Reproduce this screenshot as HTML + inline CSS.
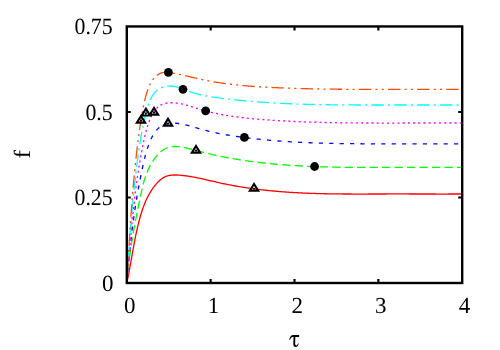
<!DOCTYPE html>
<html><head><meta charset="utf-8"><title>plot</title>
<style>
html,body{margin:0;padding:0;background:#fff;}
body{width:500px;height:350px;overflow:hidden;font-family:"Liberation Serif",serif;}
svg{display:block;position:absolute;left:0;top:0;will-change:transform;}
text{font-family:"Liberation Serif",serif;fill:#000;text-rendering:geometricPrecision;}
</style></head><body>
<svg width="500" height="350" viewBox="0 0 500 350">

<g fill="none" stroke-width="1.30" stroke-linecap="butt" stroke-linejoin="round">
<path d="M126.80 282.90 L127.02 281.88 L127.24 280.86 L127.46 279.84 L127.68 278.83 L127.89 277.81 L128.10 276.78 L128.30 275.76 L128.50 274.74 L128.70 273.72 L128.90 272.70 L129.10 271.68 L129.29 270.66 L129.48 269.63 L129.67 268.61 L129.86 267.59 L130.05 266.57 L130.23 265.54 L130.42 264.52 L130.60 263.50 L130.78 262.47 L130.97 261.45 L131.15 260.43 L131.33 259.40 L131.51 258.38 L131.68 257.36 L131.86 256.33 L132.04 255.31 L132.22 254.29 L132.40 253.26 L132.58 252.24 L132.76 251.22 L132.94 250.20 L133.13 249.17 L133.31 248.15 L133.49 247.13 L133.68 246.11 L133.87 245.09 L134.05 244.07 L134.24 243.05 L134.44 242.03 L134.63 241.01 L134.83 239.99 L135.02 238.97 L135.23 237.96 L135.43 236.94 L135.63 235.92 L135.84 234.91 L136.05 233.89 L136.27 232.88 L136.49 231.86 L136.71 230.85 L136.93 229.84 L137.16 228.83 L137.39 227.82 L137.63 226.81 L137.87 225.80 L138.11 224.79 L138.36 223.78 L138.61 222.77 L138.87 221.77 L139.13 220.76 L139.40 219.76 L139.67 218.76 L139.95 217.76 L140.23 216.75 L140.52 215.75 L140.81 214.76 L141.11 213.76 L141.42 212.77 L141.73 211.77 L142.05 210.78 L142.38 209.79 L142.72 208.81 L143.06 207.83 L143.42 206.85 L143.78 205.87 L144.15 204.90 L144.53 203.93 L144.92 202.97 L145.33 202.01 L145.74 201.06 L146.16 200.11 L146.60 199.16 L147.05 198.22 L147.51 197.29 L147.98 196.36 L148.47 195.44 L148.96 194.53 L149.48 193.62 L150.00 192.72 L150.54 191.82 L151.10 190.93 L151.67 190.05 L152.26 189.18 L152.86 188.32 L153.48 187.46 L154.11 186.61 L154.76 185.77 L155.43 184.94 L156.12 184.12 L156.82 183.32 L157.54 182.53 L158.28 181.77 L159.04 181.03 L159.82 180.32 L160.61 179.64 L161.43 179.01 L162.26 178.41 L163.11 177.85 L163.98 177.35 L164.87 176.90 L165.78 176.50 L166.71 176.15 L167.66 175.86 L168.62 175.62 L169.59 175.42 L170.58 175.26 L171.58 175.14 L172.59 175.06 L173.61 175.01 L174.64 174.98 L175.67 174.99 L176.70 175.02 L177.74 175.06 L178.78 175.13 L179.83 175.20 L180.86 175.29 L181.90 175.39 L182.94 175.50 L183.98 175.61 L185.01 175.74 L186.04 175.87 L187.07 176.01 L188.11 176.16 L189.14 176.32 L190.16 176.49 L191.19 176.66 L192.22 176.84 L193.24 177.02 L194.27 177.21 L195.29 177.40 L196.32 177.60 L197.34 177.81 L198.36 178.02 L199.38 178.23 L200.40 178.45 L201.42 178.67 L202.44 178.90 L203.46 179.12 L204.48 179.35 L205.50 179.58 L206.52 179.82 L207.54 180.05 L208.56 180.29 L209.57 180.53 L210.59 180.76 L211.61 181.00 L212.63 181.24 L213.64 181.47 L214.66 181.71 L215.68 181.95 L216.70 182.18 L217.71 182.41 L218.73 182.64 L219.75 182.87 L220.77 183.09 L221.79 183.31 L222.81 183.53 L223.83 183.74 L224.85 183.96 L225.87 184.16 L226.89 184.37 L227.91 184.57 L228.93 184.77 L229.95 184.97 L230.97 185.17 L232.00 185.36 L233.02 185.55 L234.04 185.74 L235.06 185.92 L236.09 186.10 L237.11 186.28 L238.14 186.46 L239.16 186.63 L240.18 186.80 L241.21 186.97 L242.23 187.13 L243.26 187.30 L244.28 187.46 L245.31 187.61 L246.34 187.77 L247.36 187.92 L248.39 188.07 L249.42 188.22 L250.44 188.37 L251.47 188.51 L252.50 188.65 L253.53 188.79 L254.56 188.92 L255.58 189.06 L256.61 189.19 L257.64 189.32 L258.67 189.44 L259.70 189.57 L260.73 189.69 L261.76 189.81 L262.79 189.93 L263.82 190.04 L264.85 190.16 L265.88 190.27 L266.91 190.38 L267.94 190.49 L268.98 190.59 L270.01 190.69 L271.04 190.79 L272.07 190.89 L273.10 190.99 L274.14 191.09 L275.17 191.18 L276.20 191.27 L277.23 191.36 L278.27 191.45 L279.30 191.53 L280.34 191.62 L281.37 191.70 L282.40 191.78 L283.44 191.86 L284.47 191.93 L285.51 192.01 L286.54 192.08 L287.58 192.15 L288.61 192.22 L289.65 192.29 L290.68 192.35 L291.72 192.42 L292.75 192.48 L293.79 192.54 L294.83 192.60 L295.86 192.66 L296.90 192.72 L297.93 192.77 L298.97 192.83 L300.01 192.88 L301.04 192.93 L302.08 192.98 L303.12 193.03 L304.16 193.07 L305.19 193.12 L306.23 193.16 L307.27 193.20 L308.31 193.24 L309.35 193.28 L310.38 193.32 L311.42 193.36 L312.46 193.39 L313.50 193.43 L314.54 193.46 L315.58 193.49 L316.61 193.53 L317.65 193.56 L318.69 193.58 L319.73 193.61 L320.77 193.64 L321.81 193.66 L322.85 193.69 L323.89 193.71 L324.93 193.73 L325.97 193.76 L327.01 193.78 L328.05 193.80 L329.09 193.81 L330.13 193.83 L331.17 193.85 L332.21 193.86 L333.25 193.88 L334.29 193.89 L335.33 193.91 L336.37 193.92 L337.41 193.93 L338.45 193.94 L339.49 193.95 L340.53 193.96 L341.57 193.97 L342.61 193.98 L343.65 193.99 L344.69 193.99 L345.73 194.00 L346.77 194.01 L347.81 194.01 L348.85 194.02 L349.90 194.02 L350.94 194.02 L351.98 194.03 L353.02 194.03 L354.06 194.03 L355.10 194.03 L356.14 194.03 L357.18 194.04 L358.22 194.04 L359.26 194.04 L360.30 194.04 L361.34 194.04 L362.39 194.03 L363.43 194.03 L364.47 194.03 L365.51 194.03 L366.55 194.03 L367.59 194.03 L368.63 194.02 L369.67 194.02 L370.71 194.02 L371.75 194.02 L372.79 194.01 L373.83 194.01 L374.88 194.01 L375.92 194.00 L376.96 194.00 L378.00 194.00 L379.04 194.00 L380.08 193.99 L381.12 193.99 L382.16 193.99 L383.20 193.98 L384.24 193.98 L385.28 193.98 L386.32 193.98 L387.36 193.97 L388.40 193.97 L389.44 193.97 L390.48 193.97 L391.52 193.97 L392.56 193.97 L393.60 193.97 L394.64 193.96 L395.68 193.96 L396.72 193.96 L397.76 193.96 L398.80 193.96 L399.84 193.96 L400.87 193.97 L401.91 193.97 L402.95 193.97 L403.99 193.97 L405.03 193.97 L406.07 193.97 L407.11 193.97 L408.15 193.97 L409.19 193.98 L410.23 193.98 L411.27 193.98 L412.30 193.98 L413.34 193.98 L414.38 193.99 L415.42 193.99 L416.46 193.99 L417.50 193.99 L418.54 193.99 L419.58 194.00 L420.62 194.00 L421.65 194.00 L422.69 194.00 L423.73 194.01 L424.77 194.01 L425.81 194.01 L426.85 194.01 L427.89 194.01 L428.93 194.02 L429.97 194.02 L431.00 194.02 L432.04 194.02 L433.08 194.02 L434.12 194.02 L435.16 194.02 L436.20 194.03 L437.24 194.03 L438.28 194.03 L439.32 194.03 L440.36 194.03 L441.40 194.03 L442.44 194.03 L443.48 194.03 L444.52 194.03 L445.56 194.03 L446.60 194.03 L447.64 194.03 L448.68 194.02 L449.72 194.02 L450.76 194.02 L451.80 194.02 L452.84 194.02 L453.88 194.01 L454.92 194.01 L455.96 194.01 L457.00 194.00 L458.04 194.00 L459.08 193.99 L460.12 193.99 L461.17 193.98 L462.21 193.98" stroke="#ff0000"/>
<path d="M126.80 282.90 L126.89 281.76 L126.98 280.62 L127.07 279.48 L127.16 278.34 L127.26 277.21 L127.36 276.08 L127.47 274.95 L127.58 273.83 L127.69 272.70 L127.80 271.58 L127.91 270.46 L128.03 269.35 L128.15 268.23 L128.28 267.12 L128.40 266.01 L128.53 264.90 L128.66 263.79 L128.80 262.68 L128.93 261.58 L129.07 260.48 L129.21 259.38 L129.35 258.28 L129.50 257.18 L129.65 256.08 L129.80 254.99 L129.95 253.89 L130.11 252.80 L130.26 251.71 L130.42 250.62 L130.58 249.53 L130.75 248.44 L130.91 247.36 L131.08 246.27 L131.25 245.18 L131.42 244.10 L131.59 243.02 L131.77 241.93 L131.94 240.85 L132.12 239.77 L132.30 238.69 L132.49 237.61 L132.67 236.53 L132.86 235.45 L133.04 234.37 L133.23 233.29 L133.42 232.22 L133.61 231.14 L133.81 230.06 L134.00 228.98 L134.20 227.91 L134.40 226.83 L134.60 225.75 L134.80 224.67 L135.00 223.60 L135.20 222.52 L135.41 221.44 L135.61 220.36 L135.82 219.28 L136.03 218.20 L136.24 217.12 L136.45 216.04 L136.66 214.96 L136.87 213.88 L137.08 212.80 L137.30 211.72 L137.51 210.63 L137.73 209.55 L137.95 208.47 L138.16 207.38 L138.38 206.29 L138.60 205.21 L138.82 204.12 L139.04 203.03 L139.26 201.94 L139.49 200.84 L139.71 199.75 L139.93 198.66 L140.16 197.56 L140.38 196.46 L140.61 195.37 L140.85 194.27 L141.08 193.18 L141.32 192.08 L141.57 190.99 L141.82 189.90 L142.07 188.80 L142.33 187.72 L142.60 186.63 L142.87 185.55 L143.16 184.46 L143.45 183.39 L143.74 182.31 L144.05 181.24 L144.37 180.17 L144.70 179.11 L145.03 178.05 L145.38 177.00 L145.74 175.95 L146.12 174.90 L146.50 173.87 L146.90 172.84 L147.31 171.81 L147.74 170.79 L148.18 169.78 L148.63 168.78 L149.10 167.78 L149.59 166.79 L150.09 165.81 L150.61 164.84 L151.15 163.87 L151.71 162.92 L152.28 161.97 L152.88 161.04 L153.49 160.11 L154.13 159.20 L154.78 158.29 L155.45 157.40 L156.15 156.52 L156.87 155.67 L157.61 154.83 L158.37 154.02 L159.15 153.23 L159.95 152.48 L160.77 151.76 L161.62 151.07 L162.49 150.42 L163.38 149.82 L164.29 149.25 L165.22 148.74 L166.18 148.27 L167.16 147.86 L168.16 147.50 L169.18 147.20 L170.23 146.96 L171.30 146.77 L172.38 146.64 L173.47 146.55 L174.58 146.51 L175.69 146.51 L176.81 146.54 L177.93 146.61 L179.04 146.71 L180.16 146.84 L181.27 146.99 L182.37 147.17 L183.47 147.36 L184.56 147.57 L185.65 147.80 L186.73 148.04 L187.81 148.29 L188.89 148.56 L189.97 148.84 L191.05 149.12 L192.12 149.40 L193.19 149.70 L194.26 149.99 L195.34 150.28 L196.41 150.57 L197.49 150.86 L198.56 151.15 L199.64 151.43 L200.71 151.71 L201.79 151.98 L202.87 152.25 L203.95 152.52 L205.03 152.79 L206.11 153.06 L207.20 153.32 L208.28 153.57 L209.36 153.83 L210.44 154.08 L211.53 154.33 L212.61 154.58 L213.70 154.82 L214.79 155.06 L215.87 155.30 L216.96 155.53 L218.05 155.76 L219.13 155.99 L220.22 156.22 L221.31 156.44 L222.40 156.66 L223.49 156.87 L224.58 157.09 L225.67 157.30 L226.76 157.51 L227.85 157.71 L228.94 157.91 L230.03 158.11 L231.12 158.31 L232.21 158.50 L233.30 158.69 L234.40 158.88 L235.49 159.07 L236.58 159.25 L237.67 159.43 L238.77 159.61 L239.86 159.78 L240.95 159.96 L242.05 160.13 L243.14 160.29 L244.24 160.46 L245.33 160.62 L246.43 160.78 L247.52 160.94 L248.62 161.09 L249.71 161.24 L250.81 161.39 L251.91 161.54 L253.00 161.69 L254.10 161.83 L255.20 161.97 L256.30 162.11 L257.39 162.24 L258.49 162.38 L259.59 162.51 L260.69 162.64 L261.79 162.76 L262.89 162.89 L263.99 163.01 L265.08 163.13 L266.18 163.25 L267.28 163.36 L268.38 163.48 L269.48 163.59 L270.58 163.70 L271.69 163.81 L272.79 163.91 L273.89 164.01 L274.99 164.12 L276.09 164.21 L277.19 164.31 L278.29 164.41 L279.40 164.50 L280.50 164.59 L281.60 164.68 L282.70 164.77 L283.81 164.86 L284.91 164.94 L286.01 165.02 L287.12 165.10 L288.22 165.18 L289.32 165.26 L290.43 165.33 L291.53 165.41 L292.64 165.48 L293.74 165.55 L294.84 165.62 L295.95 165.68 L297.05 165.75 L298.16 165.81 L299.26 165.88 L300.37 165.94 L301.48 166.00 L302.58 166.05 L303.69 166.11 L304.79 166.16 L305.90 166.22 L307.00 166.27 L308.11 166.32 L309.22 166.37 L310.32 166.41 L311.43 166.46 L312.54 166.51 L313.64 166.55 L314.75 166.59 L315.86 166.63 L316.97 166.67 L318.07 166.71 L319.18 166.75 L320.29 166.78 L321.40 166.82 L322.50 166.85 L323.61 166.88 L324.72 166.91 L325.83 166.94 L326.93 166.97 L328.04 167.00 L329.15 167.03 L330.26 167.05 L331.37 167.08 L332.48 167.10 L333.58 167.13 L334.69 167.15 L335.80 167.17 L336.91 167.19 L338.02 167.21 L339.13 167.23 L340.24 167.24 L341.35 167.26 L342.46 167.28 L343.56 167.29 L344.67 167.31 L345.78 167.32 L346.89 167.33 L348.00 167.34 L349.11 167.36 L350.22 167.37 L351.33 167.38 L352.44 167.39 L353.55 167.39 L354.66 167.40 L355.77 167.41 L356.88 167.42 L357.99 167.42 L359.09 167.43 L360.20 167.43 L361.31 167.44 L362.42 167.44 L363.53 167.45 L364.64 167.45 L365.75 167.45 L366.86 167.46 L367.97 167.46 L369.08 167.46 L370.19 167.46 L371.30 167.46 L372.41 167.47 L373.52 167.47 L374.63 167.47 L375.74 167.47 L376.85 167.47 L377.95 167.47 L379.06 167.47 L380.17 167.47 L381.28 167.47 L382.39 167.46 L383.50 167.46 L384.61 167.46 L385.72 167.46 L386.83 167.46 L387.94 167.46 L389.05 167.46 L390.15 167.46 L391.26 167.46 L392.37 167.46 L393.48 167.46 L394.59 167.45 L395.70 167.45 L396.81 167.45 L397.91 167.45 L399.02 167.45 L400.13 167.45 L401.24 167.45 L402.35 167.45 L403.46 167.45 L404.56 167.45 L405.67 167.45 L406.78 167.45 L407.89 167.45 L409.00 167.45 L410.10 167.45 L411.21 167.45 L412.32 167.45 L413.43 167.45 L414.54 167.45 L415.64 167.45 L416.75 167.45 L417.86 167.45 L418.97 167.45 L420.08 167.45 L421.18 167.45 L422.29 167.45 L423.40 167.45 L424.51 167.45 L425.62 167.45 L426.72 167.45 L427.83 167.45 L428.94 167.45 L430.05 167.45 L431.16 167.45 L432.26 167.45 L433.37 167.45 L434.48 167.45 L435.59 167.45 L436.70 167.45 L437.81 167.45 L438.91 167.45 L440.02 167.45 L441.13 167.45 L442.24 167.45 L443.35 167.45 L444.46 167.45 L445.57 167.45 L446.67 167.45 L447.78 167.45 L448.89 167.45 L450.00 167.45 L451.11 167.45 L452.22 167.45 L453.33 167.45 L454.44 167.45 L455.55 167.45 L456.66 167.45 L457.77 167.45 L458.88 167.45 L459.99 167.45 L461.10 167.45 L462.21 167.45" stroke="#00ff00" stroke-dasharray="8.32 4.16" stroke-dashoffset="0.00"/>
<path d="M126.80 282.90 L126.89 281.73 L126.99 280.56 L127.09 279.39 L127.18 278.22 L127.28 277.05 L127.38 275.89 L127.48 274.72 L127.58 273.55 L127.68 272.38 L127.78 271.21 L127.89 270.05 L127.99 268.88 L128.09 267.71 L128.20 266.55 L128.31 265.38 L128.42 264.21 L128.52 263.05 L128.63 261.88 L128.75 260.72 L128.86 259.55 L128.97 258.39 L129.09 257.22 L129.20 256.06 L129.32 254.89 L129.44 253.73 L129.56 252.56 L129.68 251.40 L129.80 250.24 L129.92 249.07 L130.04 247.91 L130.17 246.75 L130.30 245.59 L130.42 244.42 L130.55 243.26 L130.68 242.10 L130.81 240.94 L130.95 239.78 L131.08 238.62 L131.22 237.45 L131.35 236.29 L131.49 235.13 L131.63 233.97 L131.77 232.81 L131.92 231.65 L132.06 230.49 L132.21 229.33 L132.35 228.18 L132.50 227.02 L132.65 225.86 L132.80 224.70 L132.96 223.54 L133.11 222.38 L133.27 221.23 L133.42 220.07 L133.58 218.91 L133.74 217.76 L133.91 216.60 L134.07 215.44 L134.24 214.29 L134.41 213.13 L134.57 211.97 L134.75 210.82 L134.92 209.66 L135.09 208.51 L135.27 207.35 L135.45 206.20 L135.63 205.05 L135.81 203.89 L135.99 202.74 L136.18 201.59 L136.36 200.43 L136.55 199.28 L136.74 198.13 L136.94 196.97 L137.13 195.82 L137.33 194.67 L137.53 193.52 L137.73 192.37 L137.93 191.22 L138.13 190.07 L138.34 188.91 L138.55 187.76 L138.76 186.61 L138.97 185.46 L139.18 184.31 L139.40 183.17 L139.62 182.02 L139.84 180.87 L140.06 179.72 L140.29 178.57 L140.51 177.42 L140.74 176.27 L140.97 175.13 L141.21 173.98 L141.44 172.83 L141.68 171.69 L141.92 170.54 L142.16 169.39 L142.41 168.25 L142.65 167.10 L142.90 165.96 L143.15 164.81 L143.41 163.67 L143.66 162.52 L143.92 161.38 L144.19 160.24 L144.46 159.09 L144.74 157.96 L145.02 156.82 L145.31 155.68 L145.61 154.55 L145.92 153.42 L146.23 152.29 L146.56 151.17 L146.90 150.05 L147.25 148.93 L147.61 147.82 L147.99 146.71 L148.38 145.61 L148.78 144.51 L149.20 143.42 L149.63 142.33 L150.08 141.24 L150.55 140.17 L151.04 139.10 L151.54 138.03 L152.07 136.98 L152.62 135.94 L153.19 134.92 L153.79 133.92 L154.42 132.94 L155.09 132.00 L155.78 131.09 L156.52 130.22 L157.29 129.38 L158.11 128.60 L158.96 127.86 L159.85 127.17 L160.78 126.53 L161.74 125.94 L162.73 125.40 L163.75 124.92 L164.79 124.49 L165.87 124.12 L166.96 123.81 L168.07 123.55 L169.20 123.36 L170.35 123.22 L171.51 123.13 L172.67 123.09 L173.85 123.10 L175.03 123.15 L176.22 123.23 L177.41 123.35 L178.59 123.50 L179.77 123.67 L180.94 123.87 L182.11 124.09 L183.27 124.32 L184.42 124.57 L185.56 124.84 L186.70 125.11 L187.83 125.40 L188.96 125.70 L190.09 126.01 L191.21 126.33 L192.33 126.65 L193.45 126.98 L194.56 127.31 L195.68 127.64 L196.79 127.97 L197.91 128.30 L199.03 128.62 L200.14 128.94 L201.26 129.26 L202.39 129.57 L203.51 129.87 L204.64 130.17 L205.76 130.46 L206.89 130.74 L208.02 131.02 L209.16 131.29 L210.29 131.56 L211.43 131.83 L212.57 132.08 L213.71 132.34 L214.85 132.58 L215.99 132.83 L217.13 133.06 L218.28 133.30 L219.43 133.52 L220.57 133.75 L221.72 133.97 L222.87 134.18 L224.03 134.39 L225.18 134.60 L226.33 134.80 L227.49 135.00 L228.64 135.19 L229.80 135.38 L230.95 135.57 L232.11 135.75 L233.27 135.93 L234.43 136.11 L235.59 136.28 L236.75 136.45 L237.91 136.62 L239.07 136.79 L240.23 136.95 L241.39 137.11 L242.56 137.26 L243.72 137.41 L244.88 137.57 L246.04 137.71 L247.21 137.86 L248.37 138.00 L249.53 138.15 L250.69 138.29 L251.86 138.42 L253.02 138.56 L254.18 138.69 L255.35 138.82 L256.51 138.95 L257.67 139.07 L258.84 139.20 L260.00 139.32 L261.17 139.44 L262.33 139.55 L263.50 139.67 L264.66 139.78 L265.82 139.89 L266.99 140.00 L268.15 140.11 L269.32 140.21 L270.48 140.32 L271.65 140.42 L272.82 140.52 L273.98 140.61 L275.15 140.71 L276.31 140.80 L277.48 140.89 L278.64 140.98 L279.81 141.07 L280.98 141.16 L282.14 141.24 L283.31 141.32 L284.47 141.40 L285.64 141.48 L286.81 141.56 L287.97 141.63 L289.14 141.71 L290.31 141.78 L291.47 141.85 L292.64 141.92 L293.81 141.98 L294.97 142.05 L296.14 142.11 L297.31 142.18 L298.48 142.24 L299.64 142.30 L300.81 142.35 L301.98 142.41 L303.15 142.47 L304.31 142.52 L305.48 142.57 L306.65 142.62 L307.82 142.67 L308.99 142.72 L310.15 142.77 L311.32 142.81 L312.49 142.85 L313.66 142.90 L314.83 142.94 L316.00 142.98 L317.16 143.02 L318.33 143.06 L319.50 143.09 L320.67 143.13 L321.84 143.16 L323.01 143.19 L324.18 143.23 L325.35 143.26 L326.51 143.29 L327.68 143.32 L328.85 143.34 L330.02 143.37 L331.19 143.40 L332.36 143.42 L333.53 143.44 L334.70 143.47 L335.87 143.49 L337.04 143.51 L338.21 143.53 L339.38 143.55 L340.55 143.57 L341.71 143.59 L342.88 143.60 L344.05 143.62 L345.22 143.63 L346.39 143.65 L347.56 143.66 L348.73 143.67 L349.90 143.69 L351.07 143.70 L352.24 143.71 L353.41 143.72 L354.58 143.73 L355.75 143.74 L356.92 143.75 L358.09 143.75 L359.26 143.76 L360.43 143.77 L361.60 143.77 L362.77 143.78 L363.94 143.79 L365.11 143.79 L366.28 143.79 L367.45 143.80 L368.62 143.80 L369.79 143.81 L370.96 143.81 L372.13 143.81 L373.30 143.81 L374.47 143.82 L375.64 143.82 L376.81 143.82 L377.98 143.82 L379.15 143.82 L380.32 143.82 L381.49 143.82 L382.66 143.82 L383.83 143.82 L385.00 143.82 L386.17 143.82 L387.34 143.82 L388.51 143.82 L389.68 143.82 L390.85 143.82 L392.02 143.82 L393.19 143.82 L394.36 143.82 L395.53 143.82 L396.70 143.82 L397.86 143.82 L399.03 143.82 L400.20 143.82 L401.37 143.82 L402.54 143.82 L403.71 143.81 L404.88 143.81 L406.05 143.81 L407.22 143.81 L408.39 143.81 L409.56 143.81 L410.73 143.81 L411.90 143.81 L413.07 143.80 L414.24 143.80 L415.41 143.80 L416.58 143.80 L417.75 143.80 L418.92 143.80 L420.09 143.80 L421.26 143.80 L422.43 143.79 L423.60 143.79 L424.77 143.79 L425.94 143.79 L427.11 143.79 L428.28 143.79 L429.45 143.79 L430.62 143.79 L431.79 143.79 L432.96 143.79 L434.12 143.79 L435.29 143.79 L436.46 143.78 L437.63 143.78 L438.80 143.78 L439.97 143.78 L441.14 143.78 L442.31 143.78 L443.48 143.79 L444.65 143.79 L445.82 143.79 L446.99 143.79 L448.16 143.79 L449.33 143.79 L450.50 143.79 L451.67 143.79 L452.84 143.79 L454.01 143.79 L455.18 143.80 L456.35 143.80 L457.52 143.80 L458.69 143.80 L459.86 143.81 L461.03 143.81 L462.20 143.81" stroke="#0000ff" stroke-dasharray="4.16 6.24" stroke-dashoffset="-0.55"/>
<path d="M126.80 282.90 L126.91 281.69 L127.01 280.47 L127.12 279.26 L127.22 278.05 L127.33 276.84 L127.43 275.62 L127.54 274.41 L127.64 273.19 L127.75 271.98 L127.85 270.76 L127.95 269.55 L128.06 268.33 L128.16 267.12 L128.26 265.90 L128.36 264.68 L128.47 263.47 L128.57 262.25 L128.67 261.04 L128.78 259.82 L128.88 258.60 L128.98 257.38 L129.08 256.17 L129.19 254.95 L129.29 253.73 L129.39 252.51 L129.50 251.30 L129.60 250.08 L129.71 248.86 L129.81 247.64 L129.92 246.42 L130.02 245.21 L130.13 243.99 L130.23 242.77 L130.34 241.55 L130.45 240.33 L130.56 239.11 L130.66 237.89 L130.77 236.68 L130.88 235.46 L130.99 234.24 L131.10 233.02 L131.22 231.80 L131.33 230.58 L131.44 229.36 L131.56 228.15 L131.67 226.93 L131.79 225.71 L131.90 224.49 L132.02 223.27 L132.14 222.05 L132.26 220.84 L132.38 219.62 L132.50 218.40 L132.62 217.18 L132.74 215.97 L132.87 214.75 L132.99 213.53 L133.12 212.31 L133.25 211.10 L133.38 209.88 L133.51 208.66 L133.64 207.45 L133.77 206.23 L133.91 205.02 L134.04 203.80 L134.18 202.58 L134.32 201.37 L134.46 200.15 L134.60 198.94 L134.74 197.73 L134.89 196.51 L135.03 195.30 L135.18 194.08 L135.33 192.87 L135.48 191.66 L135.64 190.44 L135.79 189.23 L135.95 188.02 L136.10 186.81 L136.26 185.60 L136.43 184.39 L136.59 183.18 L136.76 181.97 L136.92 180.76 L137.09 179.55 L137.26 178.34 L137.44 177.13 L137.61 175.92 L137.79 174.71 L137.97 173.50 L138.15 172.30 L138.33 171.09 L138.52 169.89 L138.71 168.68 L138.90 167.48 L139.09 166.27 L139.29 165.07 L139.48 163.86 L139.68 162.66 L139.89 161.46 L140.09 160.26 L140.30 159.05 L140.51 157.85 L140.72 156.65 L140.93 155.45 L141.15 154.25 L141.37 153.06 L141.59 151.86 L141.82 150.66 L142.05 149.46 L142.28 148.27 L142.51 147.07 L142.75 145.88 L142.98 144.68 L143.23 143.49 L143.47 142.30 L143.72 141.10 L143.98 139.91 L144.24 138.72 L144.50 137.53 L144.78 136.35 L145.06 135.16 L145.35 133.97 L145.65 132.79 L145.96 131.61 L146.28 130.43 L146.62 129.25 L146.96 128.07 L147.32 126.89 L147.69 125.72 L148.07 124.54 L148.47 123.37 L148.89 122.21 L149.33 121.05 L149.78 119.89 L150.26 118.75 L150.77 117.61 L151.30 116.48 L151.86 115.37 L152.45 114.27 L153.08 113.18 L153.73 112.11 L154.43 111.06 L155.16 110.04 L155.93 109.07 L156.75 108.14 L157.61 107.29 L158.52 106.51 L159.48 105.82 L160.48 105.21 L161.52 104.68 L162.60 104.22 L163.71 103.83 L164.84 103.51 L166.00 103.25 L167.18 103.04 L168.37 102.90 L169.58 102.80 L170.79 102.76 L172.00 102.75 L173.21 102.79 L174.42 102.86 L175.62 102.97 L176.82 103.11 L178.02 103.28 L179.21 103.48 L180.40 103.71 L181.59 103.96 L182.78 104.23 L183.96 104.52 L185.14 104.83 L186.32 105.15 L187.50 105.49 L188.67 105.84 L189.85 106.20 L191.02 106.56 L192.20 106.93 L193.37 107.30 L194.55 107.67 L195.72 108.04 L196.90 108.41 L198.08 108.77 L199.26 109.12 L200.44 109.47 L201.62 109.81 L202.80 110.14 L203.99 110.46 L205.17 110.78 L206.36 111.09 L207.55 111.39 L208.74 111.69 L209.93 111.98 L211.12 112.26 L212.31 112.54 L213.51 112.81 L214.70 113.07 L215.90 113.33 L217.09 113.58 L218.29 113.82 L219.49 114.06 L220.69 114.30 L221.89 114.52 L223.09 114.75 L224.29 114.96 L225.49 115.17 L226.70 115.38 L227.90 115.58 L229.11 115.78 L230.32 115.97 L231.52 116.15 L232.73 116.34 L233.94 116.51 L235.15 116.68 L236.36 116.85 L237.57 117.01 L238.78 117.17 L239.99 117.33 L241.20 117.48 L242.42 117.63 L243.63 117.77 L244.84 117.91 L246.06 118.04 L247.27 118.17 L248.49 118.30 L249.70 118.43 L250.92 118.55 L252.14 118.67 L253.35 118.78 L254.57 118.90 L255.79 119.01 L257.01 119.11 L258.23 119.22 L259.44 119.32 L260.66 119.42 L261.88 119.52 L263.10 119.61 L264.32 119.70 L265.54 119.79 L266.76 119.88 L267.98 119.97 L269.20 120.05 L270.42 120.14 L271.64 120.22 L272.86 120.30 L274.08 120.38 L275.30 120.46 L276.52 120.53 L277.74 120.61 L278.96 120.68 L280.18 120.75 L281.40 120.82 L282.62 120.89 L283.84 120.96 L285.06 121.02 L286.28 121.08 L287.50 121.15 L288.72 121.21 L289.94 121.27 L291.16 121.33 L292.38 121.39 L293.60 121.44 L294.82 121.50 L296.04 121.55 L297.26 121.60 L298.48 121.65 L299.70 121.70 L300.92 121.75 L302.15 121.80 L303.37 121.85 L304.59 121.89 L305.81 121.94 L307.03 121.98 L308.25 122.02 L309.47 122.06 L310.69 122.10 L311.91 122.14 L313.13 122.18 L314.35 122.21 L315.58 122.25 L316.80 122.28 L318.02 122.31 L319.24 122.35 L320.46 122.38 L321.68 122.41 L322.90 122.44 L324.12 122.47 L325.35 122.49 L326.57 122.52 L327.79 122.55 L329.01 122.57 L330.23 122.60 L331.45 122.62 L332.67 122.64 L333.90 122.66 L335.12 122.68 L336.34 122.70 L337.56 122.72 L338.78 122.74 L340.00 122.76 L341.23 122.78 L342.45 122.79 L343.67 122.81 L344.89 122.82 L346.11 122.84 L347.33 122.85 L348.56 122.86 L349.78 122.88 L351.00 122.89 L352.22 122.90 L353.44 122.91 L354.66 122.92 L355.89 122.93 L357.11 122.94 L358.33 122.95 L359.55 122.96 L360.77 122.96 L362.00 122.97 L363.22 122.98 L364.44 122.98 L365.66 122.99 L366.88 122.99 L368.10 123.00 L369.33 123.00 L370.55 123.01 L371.77 123.01 L372.99 123.02 L374.21 123.02 L375.44 123.02 L376.66 123.02 L377.88 123.03 L379.10 123.03 L380.32 123.03 L381.55 123.03 L382.77 123.03 L383.99 123.03 L385.21 123.03 L386.43 123.03 L387.66 123.03 L388.88 123.03 L390.10 123.03 L391.32 123.03 L392.54 123.03 L393.77 123.03 L394.99 123.03 L396.21 123.03 L397.43 123.03 L398.65 123.03 L399.88 123.03 L401.10 123.02 L402.32 123.02 L403.54 123.02 L404.76 123.02 L405.99 123.02 L407.21 123.02 L408.43 123.01 L409.65 123.01 L410.87 123.01 L412.10 123.01 L413.32 123.00 L414.54 123.00 L415.76 123.00 L416.99 123.00 L418.21 123.00 L419.43 122.99 L420.65 122.99 L421.87 122.99 L423.10 122.99 L424.32 122.99 L425.54 122.98 L426.76 122.98 L427.98 122.98 L429.21 122.98 L430.43 122.98 L431.65 122.98 L432.87 122.98 L434.09 122.98 L435.32 122.97 L436.54 122.97 L437.76 122.97 L438.98 122.97 L440.20 122.97 L441.43 122.97 L442.65 122.97 L443.87 122.98 L445.09 122.98 L446.31 122.98 L447.54 122.98 L448.76 122.98 L449.98 122.98 L451.20 122.99 L452.42 122.99 L453.65 122.99 L454.87 122.99 L456.09 123.00 L457.31 123.00 L458.53 123.01 L459.76 123.01 L460.98 123.02 L462.20 123.02" stroke="#ff00ff" stroke-dasharray="2.08 3.12" stroke-dashoffset="-1.50"/>
<path d="M126.80 282.90 L126.87 281.65 L126.94 280.39 L127.02 279.14 L127.09 277.89 L127.16 276.63 L127.24 275.38 L127.32 274.12 L127.39 272.86 L127.47 271.61 L127.55 270.35 L127.62 269.09 L127.70 267.83 L127.78 266.57 L127.86 265.31 L127.94 264.05 L128.02 262.79 L128.10 261.53 L128.19 260.27 L128.27 259.01 L128.35 257.75 L128.44 256.49 L128.52 255.22 L128.61 253.96 L128.70 252.70 L128.79 251.43 L128.87 250.17 L128.96 248.91 L129.05 247.64 L129.14 246.38 L129.23 245.11 L129.33 243.85 L129.42 242.58 L129.51 241.32 L129.61 240.05 L129.70 238.79 L129.80 237.52 L129.90 236.25 L129.99 234.99 L130.09 233.72 L130.19 232.46 L130.29 231.19 L130.39 229.92 L130.49 228.66 L130.60 227.39 L130.70 226.13 L130.81 224.86 L130.91 223.59 L131.02 222.33 L131.12 221.06 L131.23 219.79 L131.34 218.53 L131.45 217.26 L131.56 216.00 L131.67 214.73 L131.79 213.47 L131.90 212.20 L132.01 210.94 L132.13 209.67 L132.25 208.41 L132.36 207.14 L132.48 205.88 L132.60 204.61 L132.72 203.35 L132.84 202.09 L132.97 200.82 L133.09 199.56 L133.21 198.30 L133.34 197.04 L133.47 195.77 L133.59 194.51 L133.72 193.25 L133.85 191.99 L133.98 190.73 L134.11 189.47 L134.25 188.21 L134.38 186.95 L134.51 185.70 L134.65 184.44 L134.79 183.18 L134.92 181.92 L135.06 180.67 L135.20 179.41 L135.35 178.16 L135.49 176.90 L135.63 175.65 L135.78 174.39 L135.92 173.14 L136.07 171.89 L136.22 170.64 L136.37 169.39 L136.52 168.14 L136.67 166.89 L136.82 165.64 L136.98 164.39 L137.14 163.14 L137.29 161.90 L137.45 160.65 L137.62 159.40 L137.78 158.16 L137.95 156.91 L138.12 155.66 L138.29 154.42 L138.46 153.17 L138.64 151.93 L138.82 150.68 L139.00 149.44 L139.18 148.19 L139.37 146.95 L139.56 145.70 L139.75 144.46 L139.95 143.21 L140.15 141.96 L140.35 140.72 L140.56 139.47 L140.77 138.23 L140.99 136.98 L141.21 135.73 L141.43 134.49 L141.65 133.24 L141.88 131.99 L142.12 130.74 L142.36 129.49 L142.60 128.24 L142.85 126.99 L143.10 125.74 L143.36 124.49 L143.62 123.23 L143.89 121.98 L144.16 120.73 L144.44 119.47 L144.72 118.22 L145.00 116.96 L145.30 115.70 L145.60 114.44 L145.90 113.18 L146.21 111.92 L146.53 110.66 L146.86 109.41 L147.20 108.16 L147.56 106.91 L147.94 105.68 L148.35 104.46 L148.77 103.25 L149.23 102.05 L149.72 100.88 L150.23 99.72 L150.79 98.59 L151.38 97.48 L152.02 96.40 L152.70 95.34 L153.43 94.32 L154.19 93.34 L155.01 92.40 L155.87 91.51 L156.77 90.68 L157.71 89.91 L158.70 89.21 L159.73 88.59 L160.80 88.03 L161.91 87.54 L163.04 87.12 L164.20 86.77 L165.39 86.48 L166.59 86.26 L167.80 86.11 L169.03 86.03 L170.27 86.00 L171.50 86.05 L172.74 86.15 L173.97 86.32 L175.20 86.55 L176.42 86.82 L177.65 87.14 L178.86 87.50 L180.08 87.90 L181.29 88.32 L182.51 88.76 L183.72 89.22 L184.93 89.69 L186.14 90.16 L187.36 90.63 L188.57 91.10 L189.79 91.55 L191.01 91.98 L192.23 92.39 L193.45 92.78 L194.68 93.16 L195.90 93.52 L197.14 93.86 L198.37 94.19 L199.60 94.50 L200.84 94.79 L202.08 95.07 L203.32 95.34 L204.56 95.60 L205.80 95.84 L207.04 96.08 L208.29 96.30 L209.53 96.52 L210.78 96.72 L212.03 96.92 L213.28 97.11 L214.53 97.30 L215.78 97.47 L217.03 97.65 L218.28 97.82 L219.54 97.98 L220.79 98.15 L222.04 98.31 L223.30 98.46 L224.55 98.62 L225.80 98.77 L227.06 98.92 L228.31 99.07 L229.57 99.21 L230.82 99.36 L232.07 99.50 L233.33 99.64 L234.59 99.77 L235.84 99.91 L237.10 100.04 L238.35 100.17 L239.61 100.29 L240.87 100.42 L242.12 100.54 L243.38 100.66 L244.64 100.78 L245.90 100.89 L247.15 101.01 L248.41 101.12 L249.67 101.23 L250.93 101.34 L252.19 101.44 L253.45 101.54 L254.71 101.65 L255.96 101.74 L257.22 101.84 L258.48 101.94 L259.74 102.03 L261.00 102.12 L262.26 102.21 L263.52 102.30 L264.79 102.39 L266.05 102.47 L267.31 102.55 L268.57 102.63 L269.83 102.71 L271.09 102.79 L272.35 102.86 L273.62 102.94 L274.88 103.01 L276.14 103.08 L277.40 103.15 L278.66 103.21 L279.93 103.28 L281.19 103.34 L282.45 103.40 L283.72 103.46 L284.98 103.52 L286.24 103.58 L287.51 103.64 L288.77 103.69 L290.03 103.74 L291.30 103.79 L292.56 103.84 L293.83 103.89 L295.09 103.94 L296.35 103.99 L297.62 104.03 L298.88 104.07 L300.15 104.12 L301.41 104.16 L302.68 104.20 L303.94 104.23 L305.21 104.27 L306.47 104.31 L307.74 104.34 L309.00 104.38 L310.27 104.41 L311.54 104.44 L312.80 104.47 L314.07 104.50 L315.33 104.53 L316.60 104.55 L317.87 104.58 L319.13 104.60 L320.40 104.63 L321.66 104.65 L322.93 104.67 L324.20 104.69 L325.46 104.71 L326.73 104.73 L328.00 104.75 L329.26 104.77 L330.53 104.79 L331.79 104.80 L333.06 104.82 L334.33 104.83 L335.59 104.84 L336.86 104.86 L338.13 104.87 L339.39 104.88 L340.66 104.89 L341.93 104.90 L343.20 104.91 L344.46 104.92 L345.73 104.93 L347.00 104.94 L348.26 104.94 L349.53 104.95 L350.80 104.96 L352.06 104.96 L353.33 104.97 L354.60 104.97 L355.86 104.98 L357.13 104.98 L358.40 104.99 L359.66 104.99 L360.93 104.99 L362.20 105.00 L363.46 105.00 L364.73 105.00 L366.00 105.00 L367.26 105.00 L368.53 105.00 L369.80 105.01 L371.06 105.01 L372.33 105.01 L373.60 105.01 L374.86 105.01 L376.13 105.01 L377.40 105.01 L378.66 105.01 L379.93 105.01 L381.19 105.01 L382.46 105.01 L383.73 105.01 L384.99 105.01 L386.26 105.01 L387.52 105.01 L388.79 105.01 L390.06 105.01 L391.32 105.01 L392.59 105.01 L393.85 105.01 L395.12 105.01 L396.38 105.01 L397.65 105.01 L398.92 105.01 L400.18 105.01 L401.45 105.01 L402.71 105.01 L403.98 105.00 L405.24 105.00 L406.51 105.00 L407.77 105.00 L409.04 105.00 L410.30 105.00 L411.57 105.00 L412.84 105.00 L414.10 105.00 L415.37 105.00 L416.63 105.00 L417.90 105.00 L419.16 105.00 L420.43 105.00 L421.69 105.00 L422.96 105.00 L424.22 105.00 L425.49 105.00 L426.75 104.99 L428.02 104.99 L429.29 104.99 L430.55 104.99 L431.82 104.99 L433.08 104.99 L434.35 104.99 L435.61 104.99 L436.88 104.99 L438.15 104.99 L439.41 104.99 L440.68 104.99 L441.94 104.99 L443.21 104.99 L444.47 104.99 L445.74 104.99 L447.01 104.99 L448.27 104.99 L449.54 105.00 L450.81 105.00 L452.07 105.00 L453.34 105.00 L454.60 105.00 L455.87 105.00 L457.14 105.00 L458.40 105.00 L459.67 105.00 L460.94 105.00 L462.20 105.01" stroke="#00ffff" stroke-dasharray="12.49 4.16 2.08 4.16" stroke-dashoffset="-1.90"/>
<path d="M126.80 282.90 L126.88 281.61 L126.95 280.31 L127.03 279.02 L127.10 277.73 L127.18 276.43 L127.25 275.14 L127.33 273.84 L127.40 272.55 L127.48 271.25 L127.56 269.96 L127.63 268.66 L127.71 267.36 L127.78 266.07 L127.86 264.77 L127.93 263.47 L128.01 262.18 L128.09 260.88 L128.16 259.58 L128.24 258.28 L128.32 256.98 L128.39 255.68 L128.47 254.39 L128.55 253.09 L128.63 251.79 L128.70 250.49 L128.78 249.19 L128.86 247.89 L128.94 246.59 L129.02 245.29 L129.10 243.99 L129.18 242.69 L129.26 241.39 L129.34 240.09 L129.42 238.78 L129.50 237.48 L129.58 236.18 L129.67 234.88 L129.75 233.58 L129.83 232.28 L129.92 230.98 L130.00 229.68 L130.09 228.38 L130.17 227.07 L130.26 225.77 L130.35 224.47 L130.43 223.17 L130.52 221.87 L130.61 220.57 L130.70 219.26 L130.79 217.96 L130.88 216.66 L130.97 215.36 L131.07 214.06 L131.16 212.76 L131.25 211.46 L131.35 210.15 L131.44 208.85 L131.54 207.55 L131.64 206.25 L131.74 204.95 L131.83 203.65 L131.93 202.35 L132.04 201.05 L132.14 199.75 L132.24 198.45 L132.34 197.15 L132.45 195.85 L132.55 194.55 L132.66 193.25 L132.77 191.95 L132.88 190.65 L132.99 189.35 L133.10 188.05 L133.21 186.75 L133.32 185.45 L133.44 184.15 L133.55 182.86 L133.67 181.56 L133.79 180.26 L133.91 178.96 L134.03 177.67 L134.15 176.37 L134.27 175.07 L134.39 173.78 L134.52 172.48 L134.65 171.18 L134.77 169.89 L134.90 168.59 L135.03 167.30 L135.17 166.00 L135.30 164.71 L135.43 163.42 L135.57 162.12 L135.71 160.83 L135.85 159.54 L135.99 158.25 L136.13 156.95 L136.27 155.66 L136.42 154.37 L136.56 153.08 L136.71 151.79 L136.86 150.50 L137.01 149.21 L137.17 147.92 L137.32 146.63 L137.48 145.35 L137.63 144.06 L137.79 142.77 L137.96 141.49 L138.12 140.20 L138.28 138.91 L138.45 137.63 L138.62 136.34 L138.79 135.06 L138.96 133.78 L139.13 132.49 L139.31 131.21 L139.48 129.93 L139.66 128.65 L139.84 127.37 L140.03 126.09 L140.21 124.81 L140.40 123.53 L140.59 122.25 L140.78 120.97 L140.98 119.70 L141.18 118.42 L141.39 117.14 L141.60 115.86 L141.82 114.59 L142.04 113.31 L142.27 112.03 L142.51 110.75 L142.76 109.48 L143.01 108.20 L143.27 106.92 L143.54 105.64 L143.81 104.36 L144.10 103.08 L144.40 101.80 L144.70 100.52 L145.02 99.23 L145.35 97.95 L145.69 96.67 L146.04 95.38 L146.40 94.10 L146.78 92.81 L147.18 91.53 L147.59 90.26 L148.03 89.00 L148.49 87.75 L148.99 86.52 L149.52 85.31 L150.08 84.13 L150.68 82.97 L151.32 81.85 L152.00 80.76 L152.74 79.70 L153.52 78.69 L154.36 77.73 L155.25 76.81 L156.19 75.95 L157.19 75.16 L158.23 74.45 L159.31 73.83 L160.44 73.31 L161.61 72.90 L162.81 72.60 L164.05 72.43 L165.32 72.39 L166.61 72.45 L167.91 72.57 L169.20 72.72 L170.50 72.88 L171.79 73.07 L173.08 73.26 L174.37 73.47 L175.66 73.70 L176.94 73.93 L178.22 74.18 L179.50 74.43 L180.78 74.70 L182.05 74.97 L183.33 75.25 L184.60 75.54 L185.87 75.83 L187.14 76.13 L188.42 76.42 L189.69 76.73 L190.96 77.03 L192.23 77.33 L193.49 77.64 L194.76 77.94 L196.03 78.24 L197.31 78.53 L198.58 78.82 L199.85 79.11 L201.12 79.39 L202.40 79.66 L203.67 79.93 L204.95 80.19 L206.22 80.44 L207.50 80.69 L208.78 80.93 L210.06 81.17 L211.34 81.40 L212.62 81.63 L213.91 81.85 L215.19 82.06 L216.47 82.27 L217.76 82.48 L219.04 82.67 L220.33 82.87 L221.62 83.06 L222.90 83.24 L224.19 83.42 L225.48 83.60 L226.77 83.77 L228.06 83.93 L229.35 84.09 L230.64 84.25 L231.94 84.40 L233.23 84.55 L234.52 84.69 L235.82 84.83 L237.11 84.97 L238.41 85.10 L239.70 85.23 L241.00 85.35 L242.29 85.48 L243.59 85.59 L244.89 85.71 L246.18 85.82 L247.48 85.93 L248.78 86.03 L250.08 86.14 L251.38 86.23 L252.68 86.33 L253.98 86.42 L255.28 86.52 L256.57 86.60 L257.87 86.69 L259.17 86.77 L260.48 86.86 L261.78 86.93 L263.08 87.01 L264.38 87.09 L265.68 87.16 L266.98 87.23 L268.28 87.30 L269.58 87.37 L270.88 87.44 L272.18 87.50 L273.48 87.56 L274.78 87.63 L276.08 87.69 L277.38 87.75 L278.69 87.80 L279.99 87.86 L281.29 87.92 L282.59 87.97 L283.89 88.02 L285.19 88.07 L286.49 88.12 L287.79 88.17 L289.09 88.22 L290.39 88.26 L291.70 88.31 L293.00 88.35 L294.30 88.39 L295.60 88.43 L296.90 88.47 L298.20 88.51 L299.50 88.55 L300.80 88.59 L302.10 88.62 L303.40 88.66 L304.71 88.69 L306.01 88.72 L307.31 88.75 L308.61 88.78 L309.91 88.81 L311.21 88.84 L312.51 88.87 L313.81 88.89 L315.11 88.92 L316.41 88.94 L317.72 88.96 L319.02 88.99 L320.32 89.01 L321.62 89.03 L322.92 89.05 L324.22 89.07 L325.52 89.09 L326.82 89.10 L328.13 89.12 L329.43 89.14 L330.73 89.15 L332.03 89.17 L333.33 89.18 L334.63 89.19 L335.93 89.21 L337.23 89.22 L338.54 89.23 L339.84 89.24 L341.14 89.25 L342.44 89.26 L343.74 89.27 L345.04 89.28 L346.34 89.28 L347.65 89.29 L348.95 89.30 L350.25 89.30 L351.55 89.31 L352.85 89.32 L354.15 89.32 L355.45 89.33 L356.76 89.33 L358.06 89.33 L359.36 89.34 L360.66 89.34 L361.96 89.34 L363.26 89.35 L364.56 89.35 L365.87 89.35 L367.17 89.35 L368.47 89.35 L369.77 89.36 L371.07 89.36 L372.37 89.36 L373.68 89.36 L374.98 89.36 L376.28 89.36 L377.58 89.36 L378.88 89.36 L380.18 89.36 L381.49 89.36 L382.79 89.36 L384.09 89.36 L385.39 89.36 L386.69 89.36 L387.99 89.36 L389.30 89.36 L390.60 89.36 L391.90 89.36 L393.20 89.36 L394.50 89.36 L395.81 89.36 L397.11 89.36 L398.41 89.36 L399.71 89.36 L401.01 89.36 L402.32 89.36 L403.62 89.36 L404.92 89.36 L406.22 89.35 L407.52 89.35 L408.82 89.35 L410.13 89.35 L411.43 89.35 L412.73 89.35 L414.03 89.35 L415.33 89.35 L416.64 89.35 L417.94 89.35 L419.24 89.35 L420.54 89.35 L421.84 89.35 L423.15 89.35 L424.45 89.35 L425.75 89.34 L427.05 89.34 L428.35 89.34 L429.66 89.34 L430.96 89.34 L432.26 89.34 L433.56 89.34 L434.86 89.34 L436.16 89.34 L437.47 89.34 L438.77 89.34 L440.07 89.34 L441.37 89.34 L442.67 89.34 L443.98 89.34 L445.28 89.34 L446.58 89.34 L447.88 89.34 L449.18 89.34 L450.48 89.34 L451.79 89.35 L453.09 89.35 L454.39 89.35 L455.69 89.35 L456.99 89.35 L458.29 89.35 L459.60 89.35 L460.90 89.36 L462.20 89.36" stroke="#ff4d00" stroke-dasharray="2.08 4.16 12.49 4.16 2.08 4.16" stroke-dashoffset="-1.70"/>
</g>
<g fill="none" stroke="#000" stroke-width="2.40" stroke-linecap="butt" stroke-linejoin="miter">
<rect x="126.80" y="26.45" width="335.40" height="256.55"/>
<path stroke-width="2.15" d="M210.65 283.00 V279.00 M210.65 26.45 V30.45 M294.50 283.00 V279.00 M294.50 26.45 V30.45 M378.35 283.00 V279.00 M378.35 26.45 V30.45 M126.80 197.48 H130.80 M462.20 197.48 H458.20 M126.80 111.97 H130.80 M462.20 111.97 H458.20"/>
</g>
<g fill="none" stroke="#000" stroke-width="2.1" stroke-linejoin="miter">
<path d="M254.00 184.05 L249.85 190.77 L258.15 190.77 Z"/>
<path d="M196.00 145.95 L191.85 152.67 L200.15 152.67 Z"/>
<path d="M168.00 118.85 L163.85 125.58 L172.15 125.58 Z"/>
<path d="M154.00 107.95 L149.85 114.67 L158.15 114.67 Z"/>
<path d="M145.90 108.75 L141.75 115.48 L150.05 115.48 Z"/>
<path d="M141.00 115.95 L136.85 122.67 L145.15 122.67 Z"/>
</g>
<g fill="#000" stroke="none">
<circle cx="254.00" cy="188.70" r="1.05"/>
<circle cx="196.00" cy="150.60" r="1.05"/>
<circle cx="168.00" cy="123.50" r="1.05"/>
<circle cx="154.00" cy="112.60" r="1.05"/>
<circle cx="145.90" cy="113.40" r="1.05"/>
<circle cx="141.00" cy="120.60" r="1.05"/>
<circle cx="314.60" cy="166.50" r="4.4"/>
<circle cx="244.40" cy="137.45" r="4.4"/>
<circle cx="205.65" cy="110.90" r="4.4"/>
<circle cx="183.00" cy="89.35" r="4.4"/>
<circle cx="168.40" cy="72.45" r="4.4"/>
</g>
<g font-size="23">
<text transform="translate(113.60 290.65) scale(1.000 1.012)" text-anchor="end">0</text>
<text transform="translate(112.70 205.13) scale(0.950 1.012)" text-anchor="end">0.25</text>
<text transform="translate(112.70 119.62) scale(0.950 1.012)" text-anchor="end">0.5</text>
<text transform="translate(112.70 34.10) scale(0.950 1.012)" text-anchor="end">0.75</text>
<text transform="translate(129.70 313.3) scale(1 1.000)" text-anchor="middle">0</text>
<text transform="translate(213.45 313.3) scale(1 1.000)" text-anchor="middle">1</text>
<text transform="translate(297.30 313.3) scale(1 1.000)" text-anchor="middle">2</text>
<text transform="translate(380.65 313.3) scale(1 1.000)" text-anchor="middle">3</text>
<text transform="translate(464.50 313.3) scale(1 1.000)" text-anchor="middle">4</text>
<path fill="#000" d="M289.2 339.8 C289.8 336.9 291.2 335.05 293.3 335 L299.1 335 L299.1 337.1 L295.35 337.1 L295.15 343.5 C295.15 344.8 295.7 345.4 296.4 345.4 C297.2 345.4 297.7 344.6 298 343.2 L298.6 343.4 C298.3 345.7 297.2 347 295.7 347 C294 347 293.2 345.8 293.25 343.8 L293.55 337.1 L292.9 337.1 C291.5 337.2 290.6 338.2 290 340.1 Z"/>
<text transform="translate(29.7 154.25) rotate(-90) scale(1.11 1.012)" text-anchor="middle">f</text>
</g>
</svg></body></html>
